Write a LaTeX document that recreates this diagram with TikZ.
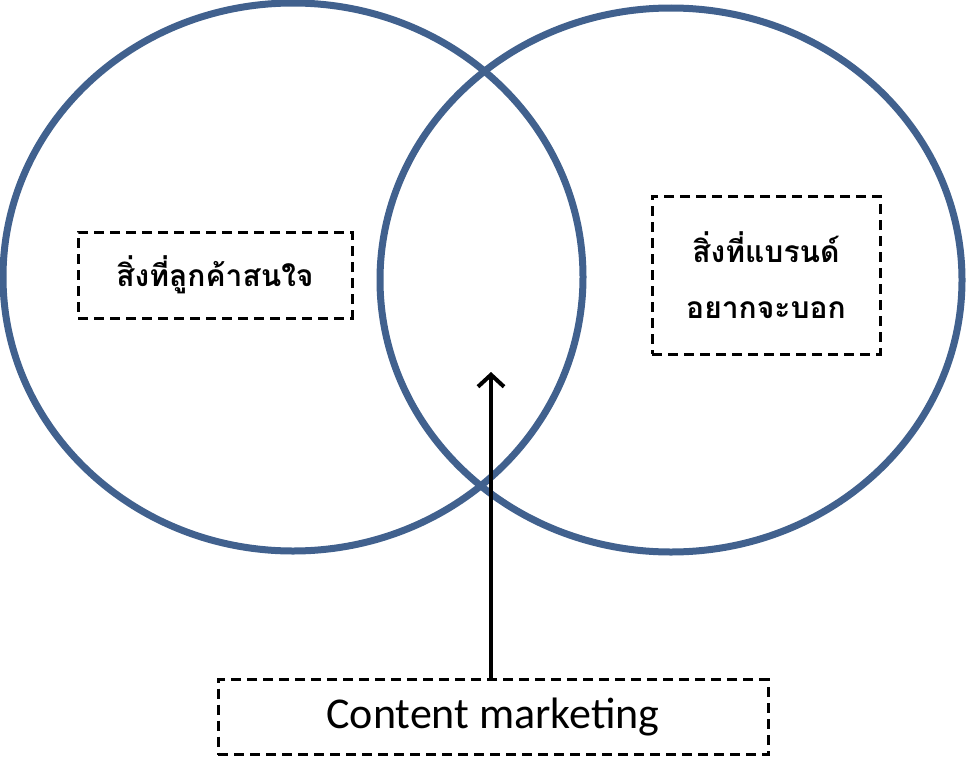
\documentclass[tikz,border=0pt]{standalone}
\usepackage{fontspec}
\usetikzlibrary{arrows.meta}
\setmainfont{Carlito}
\newfontfamily\thaifont[Script=Thai]{Loma}
\definecolor{ringblue}{HTML}{41618E}
\tikzset{
  ring/.style={draw=ringblue, line width=7pt},
  tagbox/.style={draw, dashed, line width=3pt, dash pattern=on 10pt off 6pt, inner sep=8pt, align=center},
}
\begin{document}
\begin{tikzpicture}[x=1pt,y=-1pt]
  \useasboundingbox (0,0) rectangle (966,771);
  \draw [ring] (293,277) ellipse (290 and 274);
  \draw [ring] (671,280) ellipse (291 and 272);
  \node [tagbox, minimum width=274pt, minimum height=86pt, font=\thaifont\bfseries\fontsize{30}{44}\selectfont] (want) at (215,275) {สิ่งที่ลูกค้าสนใจ};
  \node [tagbox, minimum width=228pt, minimum height=158pt, font=\thaifont\bfseries\fontsize{30}{56}\selectfont] (brand) at (766,275) {สิ่งที่แบรนด์\\อยากจะบอก};
  \node [tagbox, minimum width=550pt, minimum height=75pt, font=\fontsize{44}{50}\selectfont] (cm) at (493,717) {Content marketing};
  \coordinate (tip) at (491,372);
  \draw [line width=4pt, -{Straight Barb[length=12pt,width=26pt]}] (cm.north -| tip) -- (tip);
\end{tikzpicture}
\end{document}
